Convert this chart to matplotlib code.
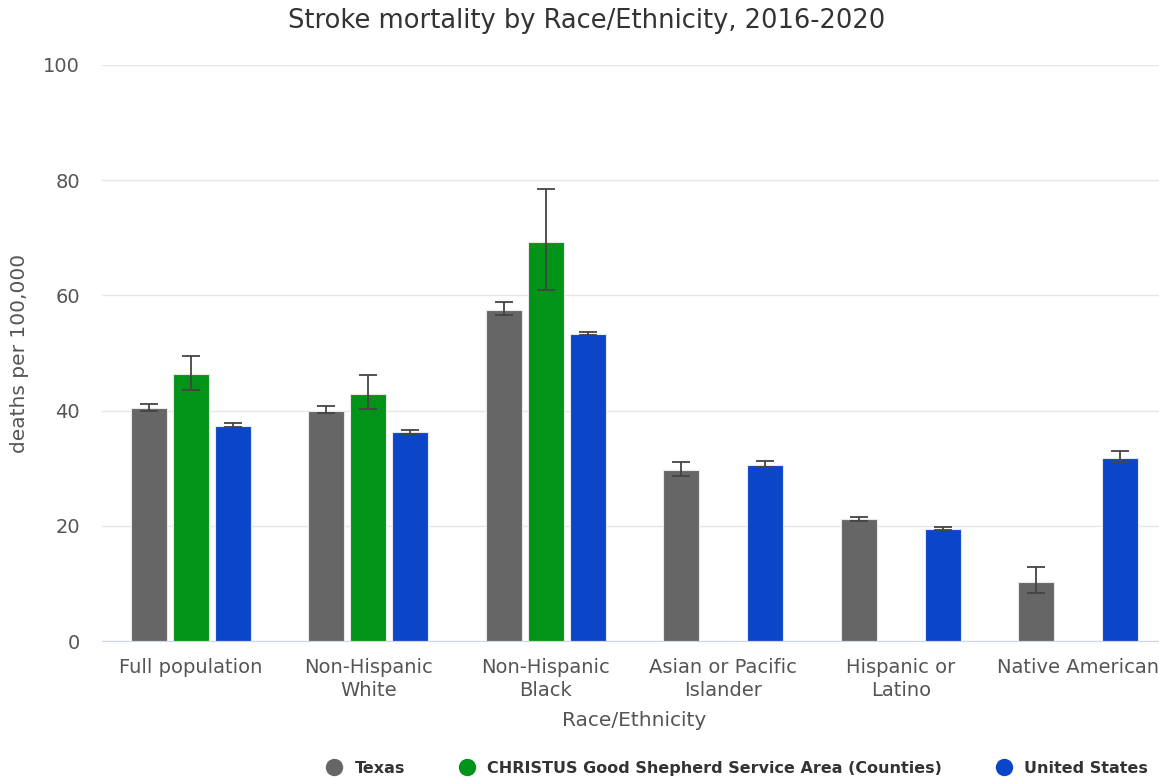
import matplotlib
matplotlib.use("Agg")
import matplotlib.pyplot as plt
import numpy as np
from matplotlib.lines import Line2D

categories = ["Full population", "Non-Hispanic\nWhite", "Non-Hispanic\nBlack",
              "Asian or Pacific\nIslander", "Hispanic or\nLatino", "Native American"]
series_names = ["Texas", "CHRISTUS Good Shepherd Service Area (Counties)", "United States"]

texas = [40.5, 40.0, 57.4, 29.7, 21.2, 10.3]
texas_lo = [39.9, 39.6, 56.6, 28.6, 20.9, 8.4]
texas_hi = [41.2, 40.8, 58.8, 31.1, 21.6, 12.8]

christus = [46.3, 42.9, 69.3, None, None, None]
christus_lo = [43.6, 40.2, 60.9, None, None, None]
christus_hi = [49.4, 46.2, 78.5, None, None, None]

usa = [37.4, 36.2, 53.3, 30.5, 19.4, 31.8]
usa_lo = [37.2, 36.0, 53.1, 30.3, 19.2, 31.1]
usa_hi = [37.9, 36.6, 53.7, 31.2, 19.8, 33.0]

colors = ["#666666", "#029418", "#0c46c8"]

fig = plt.figure(figsize=(11.59, 7.8), dpi=100)
ax = fig.add_axes([102 / 1159, 0.178, 1065 / 1159, 0.739])

x = np.arange(len(categories))
w = 0.203
off = 0.2366
data = [(texas, texas_lo, texas_hi), (christus, christus_lo, christus_hi), (usa, usa_lo, usa_hi)]
for i, (vals, lo, hi) in enumerate(data):
    xs, ys, el, eh = [], [], [], []
    for j, v in enumerate(vals):
        if v is None:
            continue
        xs.append(x[j] + (i - 1) * off)
        ys.append(v)
        el.append(v - lo[j])
        eh.append(hi[j] - v)
    ax.bar(xs, ys, width=w, color=colors[i], edgecolor="#e8e8e8", linewidth=0.8, zorder=2)
    ax.errorbar(xs, ys, yerr=[el, eh], fmt="none", ecolor="#444444", elinewidth=1.3,
                capsize=6.5, capthick=1.3, zorder=3)

ax.set_xlim(-0.5, len(categories) - 0.5)
ax.set_ylim(0, 100)
ax.set_yticks([0, 20, 40, 60, 80, 100])
ax.set_xticks(x)
ax.set_xticklabels(categories, fontsize=14, color="#555555", linespacing=1.25)
ax.tick_params(axis="y", labelsize=14, labelcolor="#555555", length=0, pad=16)
ax.tick_params(axis="x", length=0, pad=12)
ax.grid(axis="y", color="#e6e6e6", linewidth=1, zorder=0)
ax.set_axisbelow(True)
for s in ["top", "right", "left"]:
    ax.spines[s].set_visible(False)
ax.spines["bottom"].set_color("#ccd6eb")

ax.set_xlabel("Race/Ethnicity", fontsize=14.5, color="#555555", labelpad=8)
ax.set_ylabel("deaths per 100,000", fontsize=14.5, color="#555555", labelpad=10)
fig.text(0.506, 0.973, "Stroke mortality by Race/Ethnicity, 2016-2020", ha="center", va="center",
         fontsize=18.5, color="#333333")

# legend along the bottom, right aligned
handles = [Line2D([0], [0], marker="o", linestyle="none", markersize=11.5,
                  markerfacecolor=c, markeredgecolor=c) for c in colors]
leg = fig.legend(handles, series_names, loc="lower right", bbox_to_anchor=(1.003, -0.013), ncol=3,
                 frameon=False, handlelength=1.0, handletextpad=0.75, columnspacing=3.4,
                 prop={"weight": "bold", "size": 11.5})
for t in leg.get_texts():
    t.set_color("#333333")

fig.savefig("out.png", dpi=100)
